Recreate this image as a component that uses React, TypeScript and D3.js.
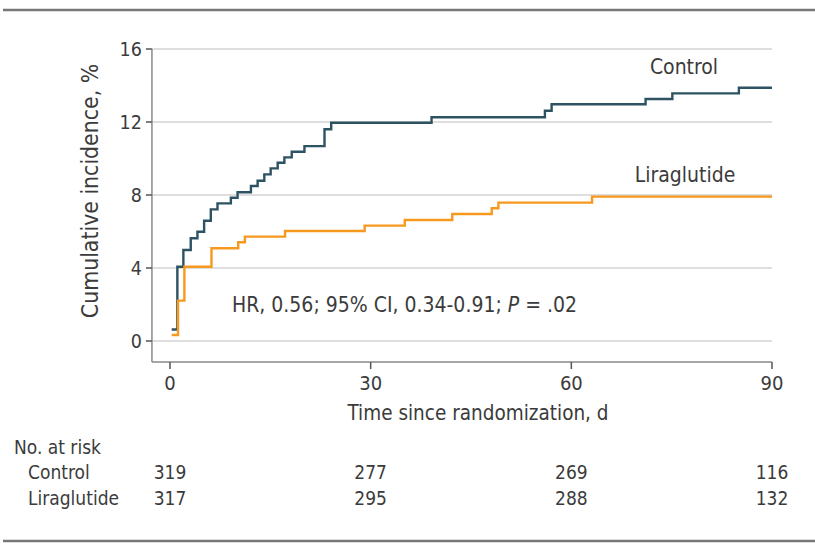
import * as d3 from "d3";

// cumulative incidence (day, %)
const controlDays = [0.25, 1.1, 2.0, 3.1, 4.1, 5.1, 6.1, 7.1, 9.1, 10.1, 12.1, 13.1, 14.1, 15.05, 16.1, 17.1, 18.2, 20.1, 23.1, 24.1, 39.1, 56.05, 57.05, 71.1, 75.1, 85.05, 90];
const controlPct = [0.63, 4.07, 4.99, 5.63, 5.99, 6.59, 7.21, 7.54, 7.85, 8.15, 8.49, 8.78, 9.13, 9.46, 9.77, 10.06, 10.37, 10.68, 11.6, 11.96, 12.26, 12.62, 12.97, 13.26, 13.57, 13.88, 13.88];
const liraDays = [0.25, 1.2, 2.15, 6.2, 10.2, 11.2, 17.2, 29.1, 35.1, 42.2, 48.1, 49.1, 63.1, 90];
const liraPct = [0.33, 2.21, 4.07, 5.08, 5.41, 5.72, 6.03, 6.32, 6.63, 6.96, 7.27, 7.58, 7.91, 7.91];

const xTicks = [0, 30, 60, 90];
const yTicks = [0, 4, 8, 12, 16];
const riskGroups = ["Control", "Liraglutide"];
const riskControl = [319, 277, 269, 116];
const riskLira = [317, 295, 288, 132];

const W = 815;
const H = 545;
const font = "'DejaVu Sans Condensed', 'Liberation Sans Narrow', sans-serif";
const ink = "#3b3b3b";
const teal = "#2d5262";
const orange = "#f7981f";

export default function App() {
  const x = d3.scaleLinear().domain([0, 90]).range([170, 772]);
  const y = d3.scaleLinear().domain([0, 16]).range([341, 49]);
  const xMin = -2.7;
  const yMin = -1.15;

  const line = d3
    .line<[number, number]>()
    .x((d) => x(d[0]))
    .y((d) => y(d[1]))
    .curve(d3.curveStepAfter);

  const control = controlDays.map((d, i) => [d, controlPct[i]] as [number, number]);
  const lira = liraDays.map((d, i) => [d, liraPct[i]] as [number, number]);

  return (
    <svg width={W} height={H} style={{ position: "absolute", left: 0, top: 0 }} fontFamily={font}>
      <rect width={W} height={H} fill="#fff" />
      <line x1={3} x2={W} y1={10} y2={10} stroke="#777" strokeWidth={2.5} />
      <line x1={3} x2={W} y1={541} y2={541} stroke="#777" strokeWidth={2.5} />

      {yTicks.map((t) => (
        <line key={"g" + t} x1={x(xMin)} x2={x(90)} y1={y(t)} y2={y(t)} stroke="#dedede" strokeWidth={2} />
      ))}

      {/* axes */}
      <line x1={x(xMin)} x2={x(xMin)} y1={y(16)} y2={y(yMin)} stroke="#8a8a8a" strokeWidth={1.5} />
      <line x1={x(xMin)} x2={x(90)} y1={y(yMin)} y2={y(yMin)} stroke="#8a8a8a" strokeWidth={1.5} />
      {yTicks.map((t) => (
        <g key={"y" + t}>
          <line x1={x(xMin) - 6} x2={x(xMin)} y1={y(t)} y2={y(t)} stroke="#555" strokeWidth={1.5} />
          <text x={x(xMin) - 10} y={y(t)} dy="0.35em" textAnchor="end" fontSize={19.5} fill={ink}>
            {t}
          </text>
        </g>
      ))}
      {xTicks.map((t) => (
        <g key={"x" + t}>
          <line x1={x(t)} x2={x(t)} y1={y(yMin)} y2={y(yMin) + 7} stroke="#555" strokeWidth={1.5} />
          <text x={x(t)} y={y(yMin) + 21} dy="0.35em" textAnchor="middle" fontSize={20} fill={ink}>
            {t}
          </text>
        </g>
      ))}
      <text transform="translate(90,191) rotate(-90)" textAnchor="middle" dy="0.35em" fontSize={22.8} fill={ink}>
        Cumulative incidence, %
      </text>
      <text x={478} y={413} dy="0.35em" textAnchor="middle" fontSize={20.5} fill={ink}>
        Time since randomization, d
      </text>

      <path d={line(control) ?? ""} fill="none" stroke={teal} strokeWidth={2.4} />
      <path d={line(lira) ?? ""} fill="none" stroke={orange} strokeWidth={2.4} />

      <text x={684} y={67} dy="0.35em" textAnchor="middle" fontSize={21} fill={ink}>
        Control
      </text>
      <text x={685} y={175} dy="0.35em" textAnchor="middle" fontSize={21} fill={ink}>
        Liraglutide
      </text>
      <text x={232} y={305} dy="0.35em" fontSize={21} fill={ink}>
        HR, 0.56; 95% CI, 0.34-0.91; <tspan fontStyle="italic">P</tspan> = .02
      </text>

      {/* number at risk */}
      <text x={14} y={447} dy="0.35em" fontSize={19} fill={ink}>
        No. at risk
      </text>
      {[riskControl, riskLira].map((row, r) => (
        <g key={"r" + r}>
          <text x={28} y={472 + r * 26} dy="0.35em" fontSize={19} fill={ink}>
            {riskGroups[r]}
          </text>
          {row.map((n, i) => (
            <text key={i} x={x(xTicks[i])} y={472 + r * 26} dy="0.35em" textAnchor="middle" fontSize={19} fill={ink}>
              {n}
            </text>
          ))}
        </g>
      ))}
    </svg>
  );
}
